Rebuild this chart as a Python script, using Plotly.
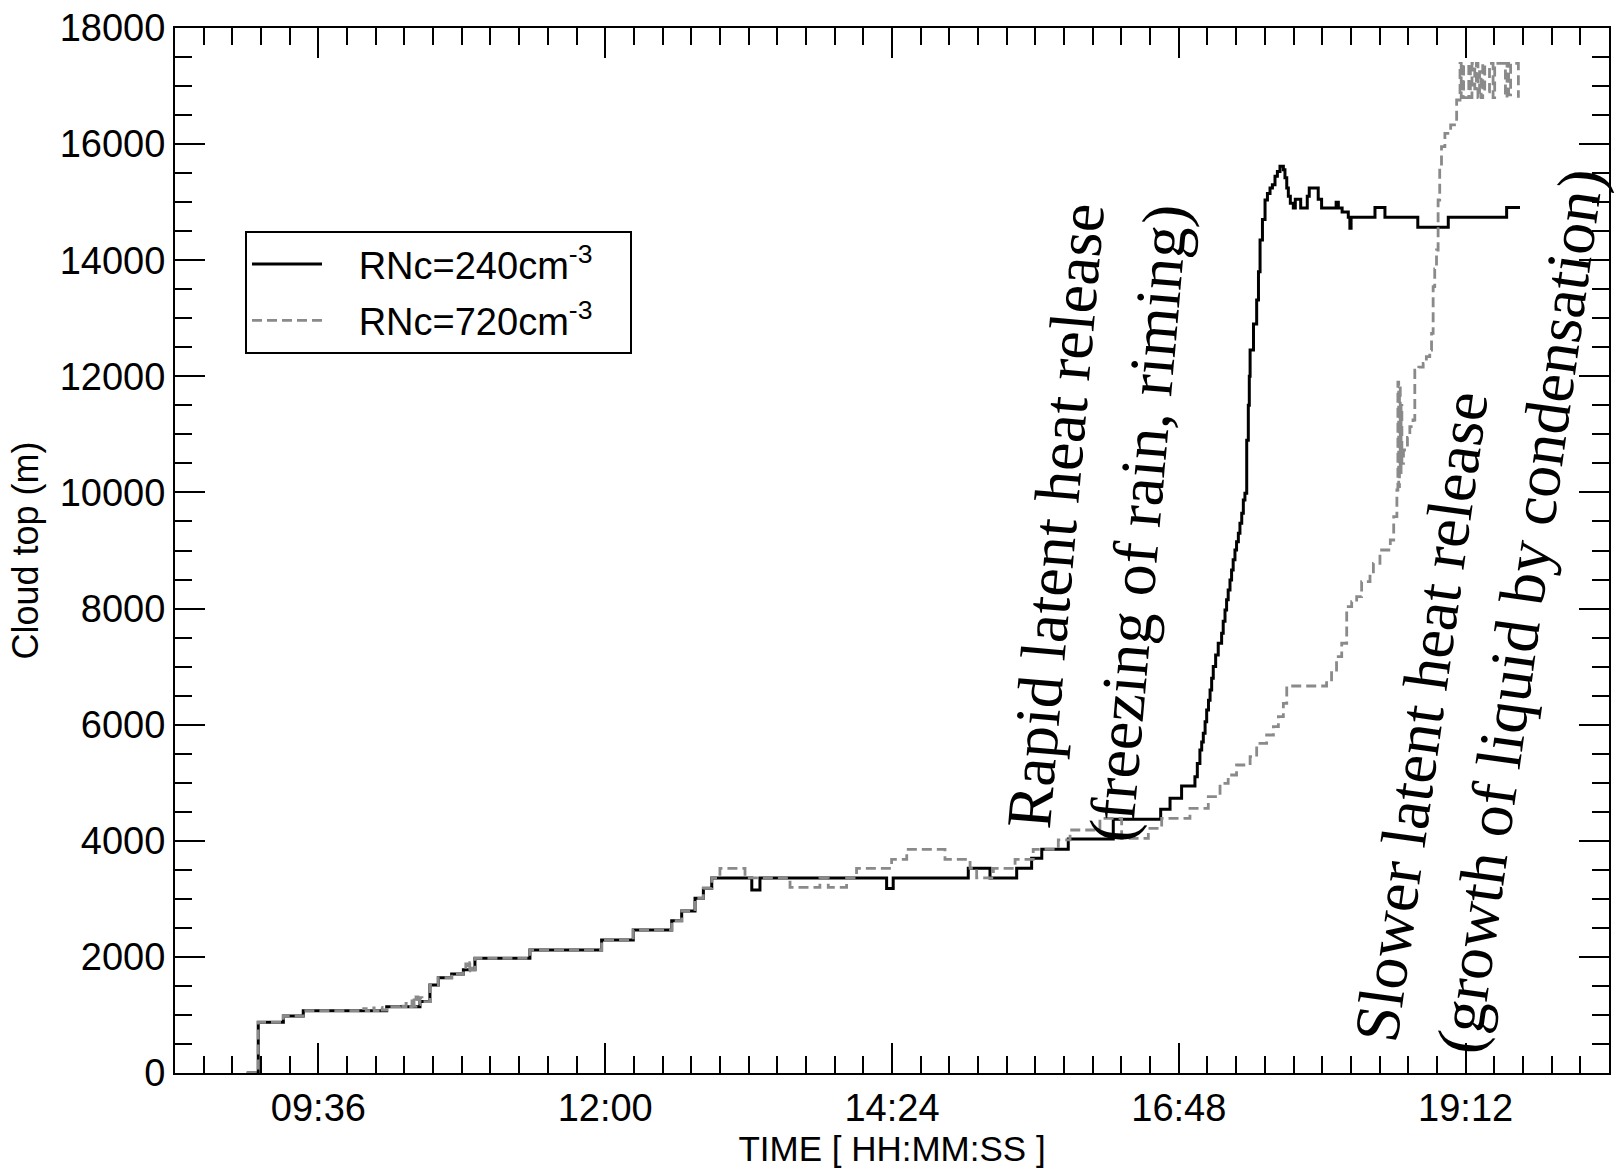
import pandas as pd
import plotly.graph_objects as go

# ---------------- data (time in minutes after midnight, cloud top in m) ----------------
TIME_240 = [540.0, 545.8, 558.4, 568.4, 610.3, 627.0, 632.0, 636.2, 642.9, 648.8, 654.6, 682.2,
            718.2, 734.1, 753.4, 758.4, 765.1, 769.3, 773.5, 793.6, 797.7, 861.3, 864.6, 902.3,
            913.2, 926.6, 934.1, 939.2, 952.5, 975.1, 998.9, 1003.6, 1009.4, 1016.1, 1017.3,
            1018.6, 1019.5, 1020.3, 1021.2, 1022.0, 1022.9, 1023.7, 1024.5, 1025.3, 1026.5,
            1027.8, 1029.5, 1030.3, 1031.2, 1032.0, 1032.8, 1033.7, 1034.5, 1035.3, 1036.2,
            1037.0, 1037.9, 1038.7, 1039.6, 1040.4, 1041.2, 1042.1, 1042.9, 1043.4, 1043.8,
            1045.5, 1047.1, 1048.0, 1048.8, 1050.0, 1051.3, 1052.5, 1053.8, 1055.0, 1056.3,
            1057.5, 1058.8, 1060.5, 1061.3, 1062.2, 1063.0, 1064.0, 1065.5, 1066.5, 1069.2,
            1072.5, 1073.5, 1078.0, 1079.7, 1087.0, 1088.1, 1090.0, 1093.1, 1093.9, 1094.5,
            1106.5, 1111.5, 1128.0, 1143.3, 1172.6, 1179.3]
TOP_240 = [0, 873, 982, 1073, 1142, 1230, 1516, 1642, 1705, 1780, 1975, 2119,
           2291, 2463, 2624, 2790, 3009, 3181, 3360, 3152, 3360, 3180, 3360, 3525,
           3360, 3525, 3698, 3853, 4031, 4370, 4545, 4731, 4945, 5104, 5330,
           5564, 5700, 5851, 6050, 6253, 6420, 6598, 6800, 7000, 7200,
           7401, 7574, 7780, 7976, 8150, 8320, 8490, 8665, 8840, 9009,
           9150, 9296, 9470, 9641, 9870, 9985, 10900, 11500, 12000, 12453,
           12900, 13315, 13800, 14348, 14700, 15037, 15150, 15243, 15300, 15447,
           15530, 15620, 15560, 15420, 15243, 15100, 14980, 14898, 15050, 14898,
           15100, 15243, 15050, 14898, 15000, 14898, 14830, 14739, 14550, 14739,
           14906, 14739, 14567, 14739, 14906, 14906]

TIME_720 = [540.0, 545.8, 558.4, 568.4, 598.0, 600.0, 602.0, 604.0, 606.0, 608.0, 610.3, 617.0,
            618.5, 620.0, 621.5, 623.0, 624.0, 625.0, 626.0, 627.0, 628.0, 632.0, 636.2, 642.9,
            648.8, 650.0, 651.0, 652.0, 653.0, 654.6, 682.2, 718.2, 734.1, 753.4, 758.4, 765.1,
            769.3, 773.5, 777.6, 790.2, 812.8, 827.8, 832.0, 841.2, 846.2, 863.8, 871.4, 890.6,
            903.2, 906.5, 914.9, 925.8, 934.9, 947.5, 953.4, 968.4, 979.3, 992.7, 999.4, 1013.6,
            1022.8, 1028.7, 1032.8, 1037.0, 1043.8, 1047.1, 1052.1, 1055.5, 1058.0, 1060.5,
            1062.2, 1082.2, 1084.7, 1087.2, 1089.8, 1092.3, 1094.8, 1097.3, 1099.8, 1104.0,
            1105.7, 1109.0, 1114.2, 1115.9, 1117.5, 1118.0, 1118.4, 1118.8, 1119.2, 1119.6,
            1120.0, 1120.8, 1122.8, 1124.0, 1125.6, 1126.5, 1128.5, 1130.7, 1132.3, 1134.0,
            1134.9, 1135.7, 1136.5, 1137.4, 1138.2, 1139.0, 1139.9, 1141.6, 1144.5, 1147.5,
            1149.2, 1149.8, 1150.4, 1151.0, 1153.6, 1154.4, 1155.2, 1156.6, 1157.4, 1158.2,
            1159.0, 1159.8, 1160.6, 1161.6, 1164.0, 1165.8, 1166.6, 1172.0, 1172.8, 1173.6,
            1174.6, 1178.5]
TOP_720 = [0, 873, 982, 1073, 1110, 1073, 1120, 1073, 1130, 1085, 1142, 1180,
           1142, 1200, 1142, 1300, 1150, 1310, 1180, 1300, 1230, 1516, 1642, 1705,
           1780, 1880, 1760, 1900, 1780, 1975, 2119, 2291, 2463, 2624, 2790, 3009,
           3181, 3360, 3525, 3360, 3199, 3360, 3199, 3360, 3525, 3681, 3853, 3681,
           3525, 3360, 3525, 3681, 3853, 4014, 4186, 4387, 4042, 4215, 4387, 4559,
           4760, 4990, 5133, 5305, 5448, 5678, 5822, 5965, 6138, 6368,
           6666, 6770, 6942, 7172, 7402, 8033, 8118, 8205, 8463, 8607,
           8779, 9009, 9181, 9583, 10042, 11900, 10100, 11800, 10300, 11500,
           10500, 10731, 10950, 11133, 11248, 12108, 12160, 12223, 12338, 12453,
           12740, 13544, 13850, 14176, 15037, 15611, 15955, 16186, 16330, 16760,
           17390, 16800, 17390, 16800, 17390, 16800, 17390, 16950, 17390, 16800,
           17250, 16800, 17390, 16900, 17390, 16800, 17390, 16800, 17390, 16850,
           17390, 16800]

SERIES_NAMES = ["RNc=240cm<sup>-3</sup>", "RNc=720cm<sup>-3</sup>"]
X_RANGE = ["2000-01-01 08:24", "2000-01-01 20:24"]
Y_RANGE = [0, 18000]

assert len(TIME_240) == len(TOP_240)
assert len(TIME_720) == len(TOP_720)

DAY = pd.Timestamp("2000-01-01")


def to_time(minutes):
    return [DAY + pd.to_timedelta(m, unit="m") for m in minutes]


PAD = "\u00a0\u00a0\u00a0"
TAIL = "\u00a0\u00a0\u00a0"

fig = go.Figure()
fig.add_trace(go.Scatter(
    x=to_time(TIME_240), y=TOP_240, mode="lines", name=PAD + SERIES_NAMES[0] + TAIL,
    legendgroup="a",
    line=dict(color="black", width=3, shape="hv"),
))
fig.add_trace(go.Scatter(
    x=to_time(TIME_720), y=TOP_720, mode="lines", name=PAD + SERIES_NAMES[1] + TAIL,
    legendgroup="b",
    line=dict(color="#8a8a8a", width=2.8, shape="hv", dash="10px,5px"),
))

SANS = "Liberation Sans, Arial, sans-serif"
AX_FONT = dict(family=SANS, size=38, color="black")

fig.update_xaxes(
    type="date", range=X_RANGE,
    tick0="2000-01-01 09:36", dtick=144 * 60 * 1000, tickformat="%H:%M",
    ticks="inside", ticklen=30, tickwidth=2, tickcolor="black",
    minor=dict(ticks="inside", ticklen=17, tickwidth=2, tickcolor="black",
               tick0="2000-01-01 09:36", dtick=14.4 * 60 * 1000),
    showline=True, linewidth=2, linecolor="black", mirror="ticks",
    showgrid=False, zeroline=False, tickfont=AX_FONT,
    title=dict(text="TIME [ HH:MM:SS ]", font=dict(family=SANS, size=35, color="black"), standoff=4),
)
fig.update_yaxes(
    range=Y_RANGE, dtick=2000, tick0=0, tickformat="d",
    ticks="inside", ticklen=30, tickwidth=2, tickcolor="black",
    minor=dict(ticks="inside", ticklen=17, tickwidth=2, tickcolor="black", dtick=500),
    showline=True, linewidth=2, linecolor="black", mirror="ticks",
    showgrid=False, zeroline=False, tickfont=AX_FONT,
    title=dict(text="Cloud top (m)", font=dict(family=SANS, size=36, color="black"), standoff=10),
)

SERIF = dict(family="Liberation Serif, Times New Roman, serif", size=64, color="black")
fig.add_annotation(
    text="Rapid latent heat release<br>(freezing of rain, riming)",
    xref="paper", yref="paper", x=0.643, y=0.53, xanchor="center", yanchor="middle",
    textangle=-85, showarrow=False, align="center", font=SERIF,
)
fig.add_annotation(
    text="Slower latent heat release<br>(growth of liquid by condensation)",
    xref="paper", yref="paper", x=0.909, y=0.447, xanchor="center", yanchor="middle",
    textangle=-82, showarrow=False, align="left", font=SERIF,
)

fig.update_layout(
    width=1622, height=1169,
    margin=dict(l=175, r=13, t=28, b=96, autoexpand=False),
    paper_bgcolor="white", plot_bgcolor="white",
    showlegend=True,
    legend=dict(
        x=0.0488, y=0.806, xanchor="left", yanchor="top",
        bgcolor="white", bordercolor="black", borderwidth=2,
        font=dict(family=SANS, size=38, color="black"),
        itemwidth=70, tracegroupgap=4,
    ),
)

fig.write_html("out.html")
